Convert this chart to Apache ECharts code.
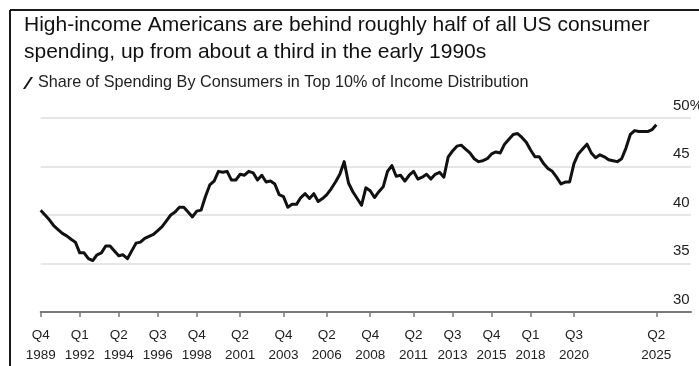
<!DOCTYPE html>
<html>
<head>
<meta charset="utf-8">
<script src="https://cdn.jsdelivr.net/npm/echarts@6/dist/echarts.min.js"></script>
<style>
  html, body { margin: 0; padding: 0; background: #fff; }
  #chart { width: 699px; height: 366px; }
</style>
</head>
<body>
<div id="chart"></div>
<script>
// Share of consumer spending by the top 10% of earners, quarterly from Q4 1989
const titleText = 'High-income Americans are behind roughly half of all US consumer\nspending, up from about a third in the early 1990s';
const seriesName = 'Share of Spending By Consumers in Top 10% of Income Distribution';

const firstQuarter = { q: 4, year: 1989 };
const axisQuarterCount = 151; // axis runs a little past the latest reading

const shareTop10 = [
  40.5, 40.0, 39.5, 38.9, 38.5, 38.1, 37.85, 37.5, 37.2, 36.1,
  36.1, 35.5, 35.3, 35.9, 36.1, 36.8, 36.8, 36.3, 35.8, 35.9,
  35.5, 36.3, 37.1, 37.2, 37.6, 37.8, 38.0, 38.4, 38.8, 39.4,
  40.0, 40.3, 40.8, 40.8, 40.3, 39.8, 40.4, 40.5, 41.9, 43.1,
  43.5, 44.5, 44.4, 44.5, 43.6, 43.6, 44.2, 44.1, 44.5, 44.35,
  43.6, 44.1, 43.4, 43.5, 43.2, 42.1, 41.9, 40.8, 41.1, 41.1,
  41.8, 42.2, 41.7, 42.2, 41.4, 41.7, 42.1, 42.7, 43.4, 44.2,
  45.5, 43.3, 42.4, 41.7, 41.0, 42.8, 42.5, 41.8, 42.4, 42.9,
  44.5, 45.1, 44.0, 44.1, 43.5, 44.1, 44.5, 43.7, 43.9, 44.2,
  43.7, 44.2, 44.4, 43.9, 46.0, 46.6, 47.1, 47.2, 46.8, 46.4,
  45.8, 45.5, 45.6, 45.8, 46.3, 46.5, 46.4, 47.3, 47.8, 48.3,
  48.4, 48.0, 47.5, 46.7, 46.0, 46.0, 45.3, 44.8, 44.5, 43.9,
  43.2, 43.4, 43.4, 45.3, 46.3, 46.8, 47.3, 46.4, 45.9, 46.2,
  46.0, 45.7, 45.6, 45.5, 45.8, 46.9, 48.3, 48.7, 48.6, 48.6,
  48.6, 48.8, 49.3
];

const xTickLabels = [
  'Q4 1989', 'Q1 1992', 'Q2 1994', 'Q3 1996', 'Q4 1998', 'Q2 2001', 'Q4 2003',
  'Q2 2006', 'Q4 2008', 'Q2 2011', 'Q3 2013', 'Q4 2015', 'Q1 2018', 'Q3 2020', 'Q2 2025'
];

const yTicks = [30, 35, 40, 45, 50];

// Quarter names along the axis
const quarters = [];
for (let k = 0; k < axisQuarterCount; k++) {
  const n = (firstQuarter.q - 1) + k;
  quarters.push('Q' + ((n % 4) + 1) + ' ' + (firstQuarter.year + Math.floor(n / 4)));
}

const FONT = '"Liberation Sans", Arial, Helvetica, sans-serif';
const showTick = (idx, value) => xTickLabels.indexOf(value) !== -1;

const chart = echarts.init(document.getElementById('chart'), null, { renderer: 'canvas' });
chart.setOption({
  animation: false,
  backgroundColor: '#fff',
  textStyle: { fontFamily: FONT },
  title: {
    text: titleText,
    left: 19,
    top: 7,
    textStyle: {
      fontFamily: FONT,
      fontSize: 21,
      fontWeight: 'normal',
      color: '#111',
      lineHeight: 27
    }
  },
  legend: {
    left: 18,
    top: 70,
    itemWidth: 10,
    itemHeight: 12,
    itemGap: 6,
    icon: 'path://M0,12 L2.2,12 L10,0 L7.8,0 Z',
    textStyle: { fontFamily: FONT, fontSize: 16.2, color: '#222', padding: [0, 0, 0, 0] },
    data: [{ name: seriesName, itemStyle: { color: '#111' } }]
  },
  grid: { left: 40.7, right: 8, top: 118, bottom: 54, containLabel: false, outerBoundsMode: 'none' },
  xAxis: {
    type: 'category',
    data: quarters,
    boundaryGap: false,
    axisLine: { show: true, lineStyle: { color: '#7a7a7a', width: 2 } },
    axisTick: { show: true, interval: showTick, length: 5, lineStyle: { color: '#7a7a7a', width: 1.5 } },
    axisLabel: {
      interval: showTick,
      formatter: v => v.replace(' ', '\n'),
      fontFamily: FONT,
      fontSize: 13.5,
      lineHeight: 19.5,
      color: '#222',
      margin: 14
    },
    splitLine: { show: false }
  },
  yAxis: {
    type: 'value',
    position: 'right',
    min: yTicks[0],
    max: yTicks[yTicks.length - 1],
    interval: 5,
    axisLine: { show: false },
    axisTick: { show: false },
    axisLabel: {
      inside: false,
      align: 'left',
      verticalAlign: 'bottom',
      margin: -18,
      padding: [0, 0, 5, 0],
      fontFamily: FONT,
      fontSize: 15,
      color: '#222',
      formatter: v => (v === yTicks[yTicks.length - 1] ? v + '%' : String(v))
    },
    splitLine: { show: true, lineStyle: { color: '#dedede', width: 1.5 } }
  },
  series: [{
    name: seriesName,
    type: 'line',
    data: shareTop10,
    showSymbol: false,
    symbol: 'none',
    lineStyle: { color: '#111', width: 3, join: 'round' },
    itemStyle: { color: '#111' }
  }],
  graphic: [
    { type: 'line', shape: { x1: 10, y1: 10, x2: 699, y2: 10 }, style: { stroke: '#1a1a1a', lineWidth: 2 } },
    { type: 'line', shape: { x1: 10, y1: 10, x2: 10, y2: 366 }, style: { stroke: '#1a1a1a', lineWidth: 2 } }
  ]
});
</script>
</body>
</html>
